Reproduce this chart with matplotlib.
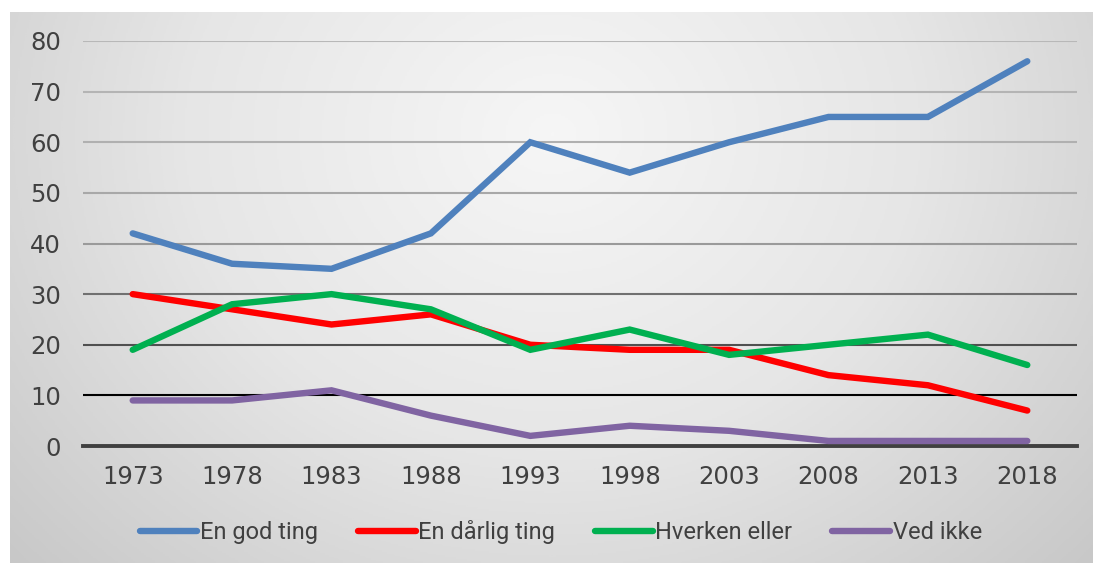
import numpy as np
import matplotlib
matplotlib.use("Agg")
import matplotlib.pyplot as plt
from matplotlib.colors import LinearSegmentedColormap

years = ["1973", "1978", "1983", "1988", "1993", "1998", "2003", "2008", "2013", "2018"]
god = [42, 36, 35, 42, 60, 54, 60, 65, 65, 76]
daarlig = [30, 27, 24, 26, 20, 19, 19, 14, 12, 7]
hverken = [19, 28, 30, 27, 19, 23, 18, 20, 22, 16]
vedikke = [9, 9, 11, 6, 2, 4, 3, 1, 1, 1]
series_names = ["En god ting", "En dårlig ting", "Hverken eller", "Ved ikke"]
yticks = [0, 10, 20, 30, 40, 50, 60, 70, 80]

colors = ["#4F81BD", "#FF0000", "#00B050", "#8064A2"]

plt.rcParams['font.family'] = ['Roboto', 'DejaVu Sans']

W, H = 1093, 563
fig = plt.figure(figsize=(W / 100, H / 100), dpi=100)
fig.patch.set_facecolor("white")

# gradient background panel
bg = fig.add_axes([10 / W, 0, 1 - 10 / W, 1 - 12 / H])
bg.set_axis_off()
ny, nx = 300, 600
yy, xx = np.mgrid[0:ny, 0:nx]
cx, cy = nx * 0.5, ny * 0.22
d = np.sqrt(((xx - cx) / nx) ** 2 * 1.0 + ((yy - cy) / ny) ** 2 * 0.35)
d = d / d.max()
cmap = LinearSegmentedColormap.from_list("g", ["#f6f6f6", "#e6e6e6", "#c8c8c8"])
bg.imshow(d, cmap=cmap, aspect="auto", extent=[0, 1, 0, 1], origin="upper")
bg.set_xlim(0, 1)
bg.set_ylim(0, 1)

ax = fig.add_axes([83 / W, 1 - 446 / H, (1077 - 83) / W, (446 - 41) / H])
ax.set_facecolor("none")
x = np.arange(len(years))
ax.set_xlim(-0.5, len(years) - 0.5)
ax.set_ylim(0, 80)

grid_colors = {80: "#b8b8b8", 70: "#b4b4b4", 60: "#b0b0b0", 50: "#a8a8a8",
               40: "#9a9a9a", 30: "#707070", 20: "#505050", 10: "#000000"}
for t in yticks[1:]:
    ax.axhline(t, color=grid_colors[t], lw=1.5, zorder=1)
ax.axhline(0, color="#404040", lw=2.8, zorder=1, clip_on=False)

data = [god, daarlig, hverken, vedikke]
for vals, c, name in zip(data, colors, series_names):
    ax.plot(x, vals, color=c, lw=4.6, solid_capstyle="round", solid_joinstyle="miter",
            label=name, zorder=3)

for s in ax.spines.values():
    s.set_visible(False)
ax.set_yticks(yticks)
ax.set_yticklabels([str(t) for t in yticks])
ax.set_xticks(x)
ax.set_xticklabels(years)
ax.tick_params(axis="both", length=0, labelsize=17.5, labelcolor="#404040")
ax.tick_params(axis="y", pad=16)
ax.tick_params(axis="x", pad=14)
for lbl in ax.get_xticklabels() + ax.get_yticklabels():
    lbl.set_fontfamily(["DejaVu Sans"])

leg = fig.legend(loc="center", bbox_to_anchor=(0.513, 1 - 532 / H), ncol=4, frameon=False,
                 prop={"family": ["Roboto"], "size": 17}, handlelength=2.45,
                 handletextpad=0.1, columnspacing=1.7)
for t in leg.get_texts():
    t.set_color("#404040")
for h in leg.get_lines():
    h.set_linewidth(4.6)
    h.set_solid_capstyle("round")

fig.savefig("out.png", dpi=100)
